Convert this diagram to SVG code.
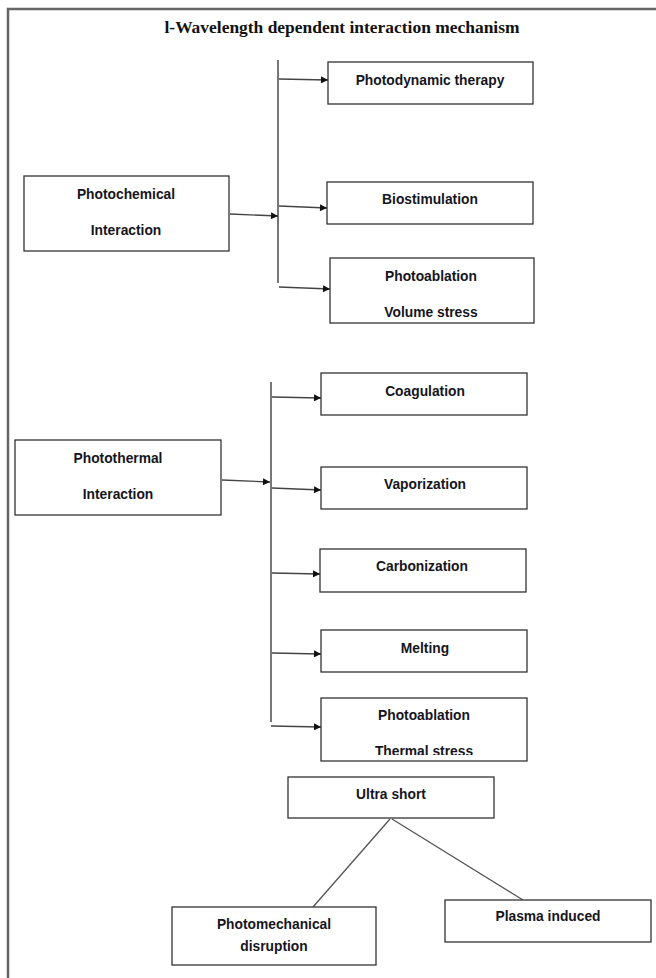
<svg xmlns="http://www.w3.org/2000/svg" width="656" height="978" viewBox="0 0 656 978">
<style>
.box{fill:#fff;stroke:#333;stroke-width:1.3}
.lbl{font-family:"Liberation Sans",Arial,sans-serif;font-weight:bold;font-size:13.8px;fill:#151520;text-anchor:middle}
.ttl{font-family:"Liberation Serif","Times New Roman",serif;font-weight:bold;font-size:17px;fill:#111;text-anchor:middle}
.bus{stroke:#777;stroke-width:2;fill:none}
.arr{stroke:#444;stroke-width:1.4;fill:none;marker-end:url(#ah)}
.ln{stroke:#555;stroke-width:1.3;fill:none}
</style>
<defs>
<marker id="ah" viewBox="0 0 10 10" refX="10" refY="5" markerWidth="8" markerHeight="7" markerUnits="userSpaceOnUse" orient="auto">
<path d="M0,0 L10,5 L0,10 z" fill="#111"/>
</marker>
<clipPath id="clipTS"><rect x="321" y="698" width="206" height="57"/></clipPath>
</defs>
<rect width="656" height="978" fill="#fff"/>
<g id="frame">
<path d="M8,978 V9 H656" fill="none" stroke="#666" stroke-width="2.5"/>
</g>
<text id="title" class="ttl" x="342" y="33" textLength="355" lengthAdjust="spacingAndGlyphs">l-Wavelength dependent interaction mechanism</text>
<g id="connectors">
<line class="bus" x1="278" y1="60" x2="278" y2="283"/>
<line class="arr" x1="230" y1="214" x2="278" y2="216"/>
<line class="arr" x1="279" y1="79" x2="328" y2="80"/>
<line class="arr" x1="279" y1="206" x2="327" y2="208"/>
<line class="arr" x1="279" y1="287" x2="330" y2="289"/>
<line class="bus" x1="271" y1="382" x2="271" y2="722"/>
<line class="arr" x1="222" y1="480" x2="270" y2="482"/>
<line class="arr" x1="272" y1="397" x2="321" y2="398"/>
<line class="arr" x1="272" y1="488" x2="321" y2="490"/>
<line class="arr" x1="272" y1="573" x2="320" y2="574"/>
<line class="arr" x1="272" y1="653" x2="321" y2="654"/>
<line class="arr" x1="271" y1="726" x2="321" y2="727"/>
<line class="ln" x1="390" y1="819" x2="313" y2="907"/>
<line class="ln" x1="392" y1="819" x2="523" y2="900"/>
</g>
<g id="photochemical">
<rect class="box" x="24" y="176" width="205" height="75"/>
<text class="lbl" x="126" y="199">Photochemical</text>
<text class="lbl" x="126" y="235">Interaction</text>
</g>
<g id="photodynamic">
<rect class="box" x="328" y="62" width="205" height="42"/>
<text class="lbl" x="430" y="85">Photodynamic therapy</text>
</g>
<g id="biostimulation">
<rect class="box" x="327" y="182" width="206" height="42"/>
<text class="lbl" x="430" y="204">Biostimulation</text>
</g>
<g id="photoablation-volume">
<rect class="box" x="330" y="258" width="204" height="65"/>
<text class="lbl" x="431" y="281">Photoablation</text>
<text class="lbl" x="431" y="317">Volume stress</text>
</g>
<g id="photothermal">
<rect class="box" x="15" y="440" width="206" height="75"/>
<text class="lbl" x="118" y="463">Photothermal</text>
<text class="lbl" x="118" y="499">Interaction</text>
</g>
<g id="coagulation">
<rect class="box" x="321" y="373" width="206" height="42"/>
<text class="lbl" x="425" y="396">Coagulation</text>
</g>
<g id="vaporization">
<rect class="box" x="321" y="467" width="206" height="42"/>
<text class="lbl" x="425" y="489">Vaporization</text>
</g>
<g id="carbonization">
<rect class="box" x="320" y="549" width="206" height="43"/>
<text class="lbl" x="422" y="571">Carbonization</text>
</g>
<g id="melting">
<rect class="box" x="321" y="630" width="206" height="42"/>
<text class="lbl" x="425" y="653">Melting</text>
</g>
<g id="photoablation-thermal">
<rect class="box" x="321" y="698" width="206" height="63"/>
<text class="lbl" x="424" y="720">Photoablation</text>
<text class="lbl" x="424" y="756" clip-path="url(#clipTS)">Thermal stress</text>
</g>
<g id="ultrashort">
<rect class="box" x="288" y="777" width="206" height="41"/>
<text class="lbl" x="391" y="799">Ultra short</text>
</g>
<g id="photomechanical">
<rect class="box" x="172" y="907" width="204" height="58"/>
<text class="lbl" x="274" y="929">Photomechanical</text>
<text class="lbl" x="274" y="951">disruption</text>
</g>
<g id="plasma">
<rect class="box" x="445" y="900" width="206" height="42"/>
<text class="lbl" x="548" y="921">Plasma induced</text>
</g>
</svg>
